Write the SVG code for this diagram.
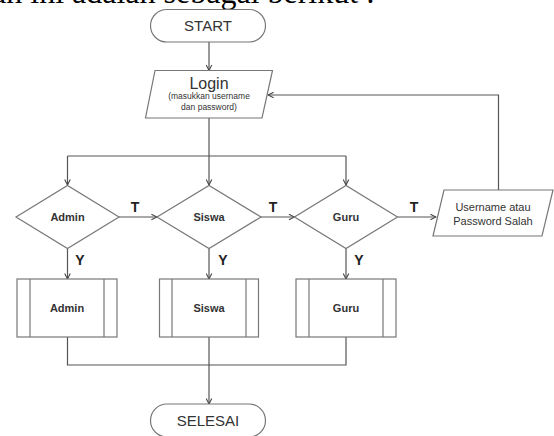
<svg xmlns="http://www.w3.org/2000/svg" width="554" height="436" viewBox="0 0 554 436">
<defs>
<marker id="arr" viewBox="0 0 10 10" refX="9" refY="5" markerWidth="7" markerHeight="7" markerUnits="userSpaceOnUse" orient="auto">
<path d="M1,1 L9,5 L1,9" fill="none" stroke="#444" stroke-width="1.5"/>
</marker>
<style>
.shape{fill:#fff;stroke:#777;stroke-width:1.2}
.line{fill:none;stroke:#555;stroke-width:1.2}
.t{font-family:"Liberation Sans",Arial,sans-serif;fill:#333;text-anchor:middle}
.b{font-weight:bold}
.lab{font-family:"Liberation Sans",Arial,sans-serif;font-weight:bold;font-size:14px;fill:#222;text-anchor:middle}
</style>
</defs>
<rect width="554" height="436" fill="#fff"/>
<text x="375" y="2.5" font-family="Liberation Serif,Times New Roman,serif" font-size="32" text-anchor="end" fill="#000">an ini adalah sebagai berikut :</text>

<g id="connectors">
<path class="line" d="M209,42 V70.5" marker-end="url(#arr)"/>
<path class="line" d="M209,118 V156"/>
<path class="line" d="M67.5,156 H346"/>
<path class="line" d="M67.5,156 V185" marker-end="url(#arr)"/>
<path class="line" d="M209,156 V185" marker-end="url(#arr)"/>
<path class="line" d="M346,156 V185" marker-end="url(#arr)"/>
<path class="line" d="M119,217 H157" marker-end="url(#arr)"/>
<path class="line" d="M261,217 H294.5" marker-end="url(#arr)"/>
<path class="line" d="M397.5,217 H436" marker-end="url(#arr)"/>
<path class="line" d="M498.5,190 V95 H268" marker-end="url(#arr)"/>
<path class="line" d="M67.5,248.5 V279" marker-end="url(#arr)"/>
<path class="line" d="M209,248.5 V279" marker-end="url(#arr)"/>
<path class="line" d="M346,248.5 V279" marker-end="url(#arr)"/>
<path class="line" d="M67.5,337 V365 H346 V337"/>
<path class="line" d="M209,337 V404" marker-end="url(#arr)"/>
<text class="lab" x="135" y="212">T</text>
<text class="lab" x="273" y="212">T</text>
<text class="lab" x="414" y="212">T</text>
<text class="lab" x="80" y="265">Y</text>
<text class="lab" x="223" y="265">Y</text>
<text class="lab" x="359" y="265">Y</text>
</g>

<g id="start">
<rect class="shape" x="150.5" y="9.5" width="115" height="32.5" rx="16.25"/>
<text class="t" x="208" y="31" font-size="15">START</text>
</g>

<g id="login">
<polygon class="shape" points="155,70.5 272.5,70.5 262,118 145.5,118"/>
<text class="t" x="209" y="89" font-size="16">Login</text>
<text class="t" x="209" y="99" font-size="8.5">(masukkan username</text>
<text class="t" x="209" y="110" font-size="8.5">dan password)</text>
</g>

<g id="dec-admin">
<polygon class="shape" points="16,217 67.5,185.5 119,217 67.5,248.5"/>
<text class="t b" x="67.5" y="221" font-size="11">Admin</text>
</g>
<g id="dec-siswa">
<polygon class="shape" points="157,217 209,185.5 261,217 209,248.5"/>
<text class="t b" x="209" y="221" font-size="11">Siswa</text>
</g>
<g id="dec-guru">
<polygon class="shape" points="294.5,217 346,185.5 397.5,217 346,248.5"/>
<text class="t b" x="346" y="221" font-size="11">Guru</text>
</g>

<g id="salah">
<polygon class="shape" points="444,190 553,190 542,236 433,236"/>
<text class="t" x="493" y="211" font-size="11">Username atau</text>
<text class="t" x="493" y="224.5" font-size="11">Password Salah</text>
</g>

<g id="proc-admin">
<rect class="shape" x="17" y="279" width="100" height="58"/>
<path class="shape" d="M30,279 V337 M104,279 V337"/>
<text class="t b" x="67" y="312" font-size="11">Admin</text>
</g>
<g id="proc-siswa">
<rect class="shape" x="159.5" y="279" width="99" height="58"/>
<path class="shape" d="M172,279 V337 M246,279 V337"/>
<text class="t b" x="209" y="312" font-size="11">Siswa</text>
</g>
<g id="proc-guru">
<rect class="shape" x="296" y="279" width="100" height="58"/>
<path class="shape" d="M309,279 V337 M383,279 V337"/>
<text class="t b" x="346" y="312" font-size="11">Guru</text>
</g>

<g id="selesai">
<rect class="shape" x="150.5" y="404" width="115" height="33" rx="16.5"/>
<text class="t" x="208" y="426" font-size="15">SELESAI</text>
</g>
</svg>
